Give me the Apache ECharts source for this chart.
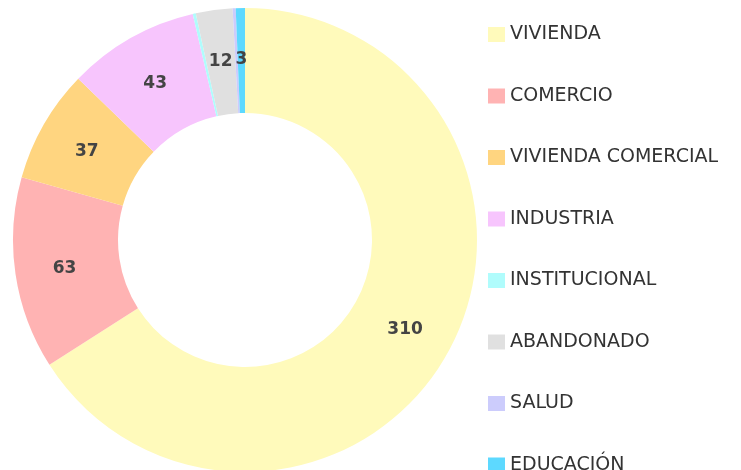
<!DOCTYPE html>
<html><head><meta charset="utf-8">
<script src="https://cdn.jsdelivr.net/npm/echarts@6/dist/echarts.min.js"></script>
<style>html,body{margin:0;padding:0;background:#fff}#c{width:741px;height:470px}</style>
</head><body><div id="c"></div>
<script>
const categories = ["VIVIENDA","COMERCIO","VIVIENDA COMERCIAL","INDUSTRIA","INSTITUCIONAL","ABANDONADO","SALUD","EDUCACIÓN"];
const values = [310, 63, 37, 43, 1, 12, 1, 3];
const colors = ["#FFFABB","#FFB3B3","#FFD580","#F7C5FD","#B0FCFC","#E0E0E0","#CCCCFC","#5DD9FF"];
const chart = echarts.init(document.getElementById('c'), null, {renderer:'canvas'});
chart.setOption({
  animation:false,
  color: colors,
  legend: {
    orient:'vertical', left: 483, top: 20, height: 700,
    itemWidth: 17, itemHeight: 15, itemGap: 42.5,
    icon: 'rect',
    textStyle: {fontFamily:'DejaVu Sans', fontSize: 19, color:'#333'},
    data: categories
  },
  series: [{
    type:'pie',
    center:[245, 240],
    radius:[127, 232],
    startAngle: 90,
    clockwise: true,
    avoidLabelOverlap:false,
    label: {show:true, position:'inside', formatter: p => p.value > 2 ? String(p.value) : '',
      fontFamily:'DejaVu Sans', fontWeight:'bold', fontSize: 17, color:'#444', offset:[0,2]},
    labelLine:{show:false},
    emphasis:{disabled:true},
    itemStyle:{borderWidth:0},
    data: categories.map((c,i)=>({name:c, value:values[i]}))
  }]
});
</script></body></html>
